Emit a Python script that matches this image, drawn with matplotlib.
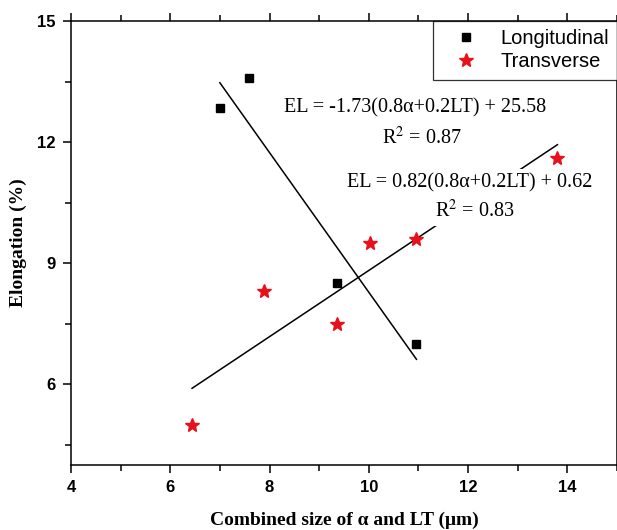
import numpy as np
import matplotlib.pyplot as plt
from matplotlib.ticker import MultipleLocator

plt.rcParams['mathtext.fontset'] = 'stix'

# Datos
x_long = [7.0, 7.59, 9.36, 10.96]
y_long = [12.85, 13.6, 8.5, 7.0]
x_trans = [6.44, 7.89, 9.36, 10.03, 10.96, 13.8]
y_trans = [5.0, 8.3, 7.5, 9.5, 9.6, 11.6]

# Coeficientes de los ajustes lineales
m_long, b_long = -1.73, 25.58
m_trans, b_trans = 0.82, 0.62

fig = plt.figure(figsize=(6.17, 5.30), dpi=100)
ax = fig.add_axes([0.115, 0.1226, 0.885, 0.8378])

# Rectas de ajuste
xl = np.array([min(x_long), max(x_long)])
ax.plot(xl, m_long * xl + b_long, color='black', lw=1.1, zorder=1)
xt = np.array([min(x_trans), max(x_trans)])
ax.plot(xt, m_trans * xt + b_trans, color='black', lw=1.1, zorder=1)

# Puntos
ax.plot(x_long, y_long, 's', color='black', ms=6, ls='none', label='Longitudinal', zorder=3)
ax.plot(x_trans, y_trans, '*', color='#e8101a', ms=10, ls='none', label='Transverse', zorder=3)

# Ecuaciones
serif = 'Liberation Serif'
fs_eq = 14.5
ax.text(10.94, 12.84, 'EL = -1.73(0.8α+0.2LT) + 25.58', family=serif, fontsize=fs_eq,
        ha='center', va='center', zorder=2)
ax.text(11.06, 12.1, r'R$^2$ = 0.87', family=serif, fontsize=fs_eq, ha='center', va='center', zorder=2)
ax.text(12.04, 11.0, 'EL = 0.82(0.8α+0.2LT) + 0.62', family=serif, fontsize=fs_eq,
        ha='center', va='center', zorder=2,
        bbox=dict(facecolor='white', edgecolor='none', pad=3))
ax.text(12.13, 10.29, r'R$^2$ = 0.83', family=serif, fontsize=fs_eq, ha='center', va='center', zorder=2,
        bbox=dict(facecolor='white', edgecolor='none', pad=3))

ax.set_xlim(4, 15)
ax.set_ylim(4, 15)
ax.xaxis.set_major_locator(MultipleLocator(2))
ax.xaxis.set_minor_locator(MultipleLocator(1))
ax.yaxis.set_major_locator(MultipleLocator(3))
ax.yaxis.set_minor_locator(MultipleLocator(1.5))
ax.set_yticks([6, 9, 12, 15])
ax.tick_params(which='both', direction='out', top=True, right=False, width=1.1)
ax.tick_params(which='major', length=6, pad=5)
ax.tick_params(which='minor', length=4)
for lab in ax.get_xticklabels() + ax.get_yticklabels():
    lab.set_fontweight('bold')
    lab.set_fontsize(12)
    lab.set_family('Liberation Sans')
for s in ax.spines.values():
    s.set_linewidth(1.1)

ax.set_xlabel('Combined size of α and LT (μm)', family=serif,
              fontsize=14, fontweight='bold', labelpad=12)
ax.set_ylabel('Elongation (%)', family=serif, fontsize=14, fontweight='bold', labelpad=7)

leg = ax.legend(loc='upper right', borderaxespad=0, fancybox=False, edgecolor='black',
                prop={'family': 'Liberation Sans', 'size': 14.5}, handlelength=2.5,
                handletextpad=0.45, borderpad=0.4, labelspacing=0.22)
leg.get_frame().set_linewidth(0.9)

plt.savefig('out.png', dpi=100)
